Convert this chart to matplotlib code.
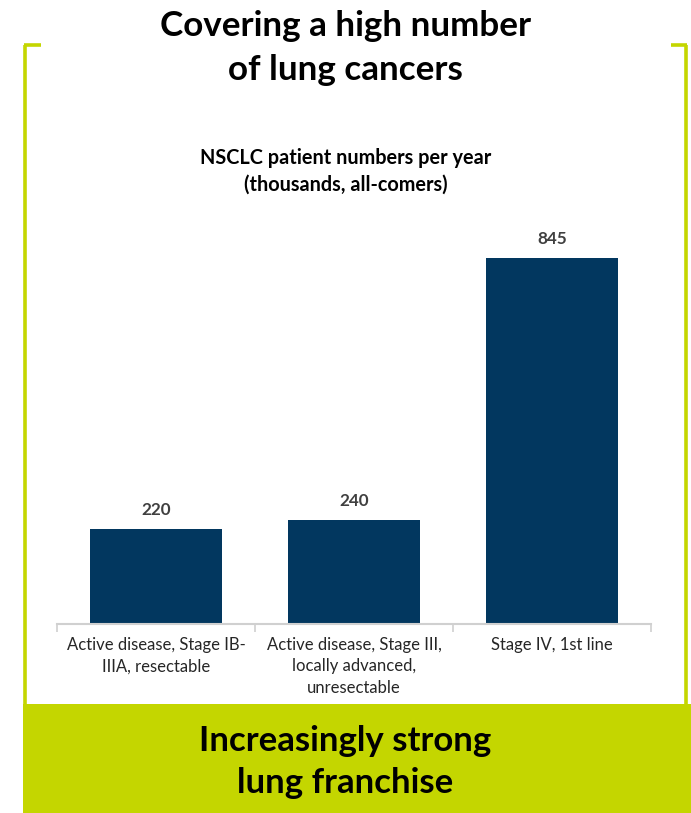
"""
plot.py — Recria o gráfico de barras de pacientes com NSCLC por ano.
"""
import matplotlib.pyplot as plt
from matplotlib.lines import Line2D
from matplotlib.patches import Rectangle

CATEGORIAS = [
    "Active disease, Stage IB-\nIIIA, resectable",
    "Active disease, Stage III,\nlocally advanced,\nunresectable",
    "Stage IV, 1st line",
]
VALORES = [220, 240, 845]

TITULO = "Covering a high number\nof lung cancers"
SUBTITULO = "NSCLC patient numbers per year\n(thousands, all-comers)"
RODAPE = "Increasingly strong\nlung franchise"

AZUL = "#02375F"
LIMA = "#C4D600"
CINZA_EIXO = "#D0D0D0"
FONTE = ["Lato", "DejaVu Sans"]

plt.rcParams["font.family"] = FONTE


def desenhar_moldura(fig) -> None:
    # colchete lima em volta do gráfico + caixa de rodapé
    y_topo, y_base = 1 - 45 / 813, 1 - 706 / 813
    x_esq, x_dir = 25 / 691, 686 / 691
    kw = dict(color=LIMA, linewidth=2.6, transform=fig.transFigure, solid_capstyle="butt")
    fig.lines.append(Line2D([x_esq, x_esq], [y_topo, y_base], **kw))
    fig.lines.append(Line2D([x_esq - 1.3 / 691, 41 / 691], [y_topo, y_topo], **kw))
    fig.lines.append(Line2D([x_dir, x_dir], [y_topo, y_base], **kw))
    fig.lines.append(Line2D([671 / 691, x_dir + 1.3 / 691], [y_topo, y_topo], **kw))
    fig.patches.append(
        Rectangle((23 / 691, 0), 1, y_base + 0.002, transform=fig.transFigure,
                  facecolor=LIMA, edgecolor="none", zorder=0)
    )


def main() -> None:
    fig = plt.figure(figsize=(6.91, 8.13), dpi=100)
    desenhar_moldura(fig)

    ax = fig.add_axes([57 / 691, 1 - 624 / 813, 594 / 691, 433 / 813])
    x = range(len(CATEGORIAS))
    barras = ax.bar(x, VALORES, width=0.667, color=AZUL, zorder=2)
    for barra, valor in zip(barras, VALORES):
        ax.annotate(f"{valor}", (barra.get_x() + barra.get_width() / 2, valor),
                    xytext=(0, 8), textcoords="offset points", ha="center", va="bottom",
                    fontsize=12.3, fontweight="bold", color="#404040")

    ax.set_xlim(-0.5, 2.5)
    ax.set_ylim(0, 1000)
    ax.set_yticks([])
    ax.set_xticks(list(x))
    ax.set_xticklabels(CATEGORIAS, fontsize=12, color="#262626", linespacing=1.45)
    ax.tick_params(axis="x", which="major", length=0, pad=9)
    ax.set_xticks([-0.5, 0.5, 1.5, 2.5], minor=True)
    ax.tick_params(axis="x", which="minor", length=6, width=1.2, color=CINZA_EIXO)
    for lado in ["top", "right", "left"]:
        ax.spines[lado].set_visible(False)
    ax.spines["bottom"].set_color(CINZA_EIXO)
    ax.spines["bottom"].set_linewidth(1.5)

    fig.text(0.5, 1 - 48 / 813, TITULO, ha="center", va="center", fontsize=25.2,
             fontweight="bold", linespacing=1.5)
    fig.text(0.5, 1 - 171 / 813, SUBTITULO, ha="center", va="center", fontsize=14.3,
             fontweight="bold", linespacing=1.4)
    fig.text(0.5, 1 - 762 / 813, RODAPE, ha="center", va="center", fontsize=25,
             fontweight="bold", linespacing=1.4)

    fig.savefig("out.png", dpi=100)
    plt.close(fig)


if __name__ == "__main__":
    main()
